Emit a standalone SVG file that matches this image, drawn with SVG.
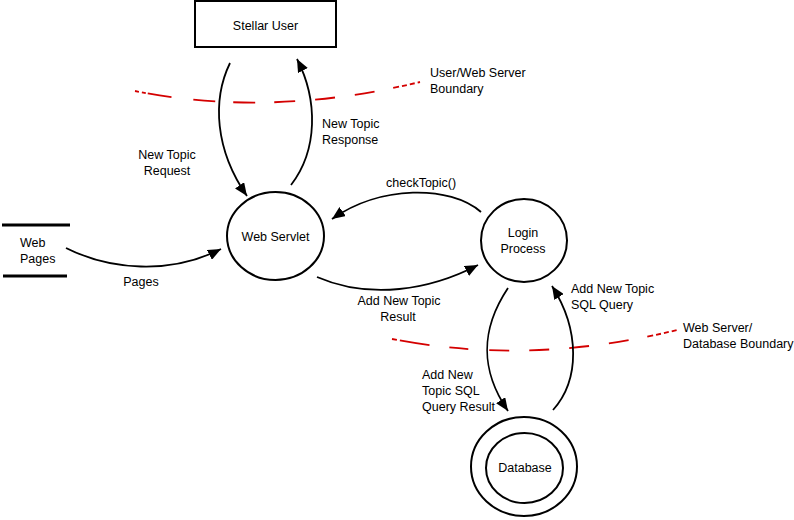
<svg xmlns="http://www.w3.org/2000/svg" width="794" height="520" viewBox="0 0 794 520">
<defs>
<style>
text{font-family:"Liberation Sans",Arial,sans-serif;font-size:12.5px;fill:#000}
.c{text-anchor:middle}
.n{fill:#fff;stroke:#000;stroke-width:2}
.e{fill:none;stroke:#000;stroke-width:1.8}
.b{fill:none;stroke:#d40000;stroke-width:1.8}
</style>
<marker id="ah" markerUnits="userSpaceOnUse" markerWidth="13" markerHeight="11" refX="13" refY="5.5" orient="auto">
<path d="M0,0 L13,5.5 L0,11 z" fill="#000"/>
</marker>
</defs>
<rect width="794" height="520" fill="#fff"/>
<g id="boundaries">
<path class="b" d="M135,91 Q270,118 420,82" stroke-dasharray="4,3,4,2,24,22,22,18,22,19,21,20,20,20,20,19,6,3,5,3,5,3"/>
<text x="430" y="77">User/Web Server</text>
<text x="430" y="93">Boundary</text>
<path class="b" d="M392,339 Q530,366 677,330" stroke-dasharray="5,3,30,20,19,21,20,20,20,20,20,20,20,19,6,3,5,3,5,3"/>
<text x="683" y="332">Web Server/</text>
<text x="683" y="348">Database Boundary</text>
</g>
<g id="connectors">
<path class="e" d="M230,63 C212,100 215,150 247,196" marker-end="url(#ah)"/>
<path class="e" d="M291,185 C318,150 318,100 297,59" marker-end="url(#ah)"/>
<path class="e" d="M481,212 C450,185 380,185 332,219" marker-end="url(#ah)"/>
<path class="e" d="M317,277 C370,300 430,290 478,265" marker-end="url(#ah)"/>
<path class="e" d="M66,248 C110,270 170,275 221,249" marker-end="url(#ah)"/>
<path class="e" d="M508,288 C480,330 480,370 508,411" marker-end="url(#ah)"/>
<path class="e" d="M553,410 C580,380 580,330 552,286" marker-end="url(#ah)"/>
<text class="c" x="167" y="159">New Topic</text>
<text class="c" x="167" y="175">Request</text>
<text x="322" y="128">New Topic</text>
<text x="322" y="144">Response</text>
<text x="386" y="187">checkTopic()</text>
<text class="c" x="141" y="286">Pages</text>
<text class="c" x="399" y="305">Add New Topic</text>
<text class="c" x="398" y="321">Result</text>
<text x="571" y="293">Add New Topic</text>
<text x="571" y="309">SQL Query</text>
<text x="422" y="379">Add New</text>
<text x="422" y="395">Topic SQL</text>
<text x="422" y="411">Query Result</text>
</g>
<g id="stellar-user">
<rect class="n" x="195" y="1" width="141" height="46"/>
<text class="c" x="265.5" y="30">Stellar User</text>
</g>
<g id="web-servlet">
<ellipse class="n" cx="275.5" cy="236" rx="48.5" ry="44"/>
<text class="c" x="275.5" y="241">Web Servlet</text>
</g>
<g id="login-process">
<ellipse class="n" cx="524" cy="240.5" rx="43" ry="41.5"/>
<text class="c" x="523" y="237">Login</text>
<text class="c" x="523" y="253">Process</text>
</g>
<g id="database">
<ellipse class="n" cx="524" cy="466.5" rx="53" ry="49.5"/>
<ellipse class="n" cx="524.5" cy="468" rx="38.5" ry="35"/>
<text class="c" x="525" y="472">Database</text>
</g>
<g id="web-pages">
<line x1="2" y1="225" x2="70" y2="225" stroke="#000" stroke-width="3"/>
<line x1="3" y1="276" x2="67" y2="276" stroke="#000" stroke-width="3"/>
<text x="20" y="247">Web</text>
<text x="20" y="263">Pages</text>
</g>
</svg>
